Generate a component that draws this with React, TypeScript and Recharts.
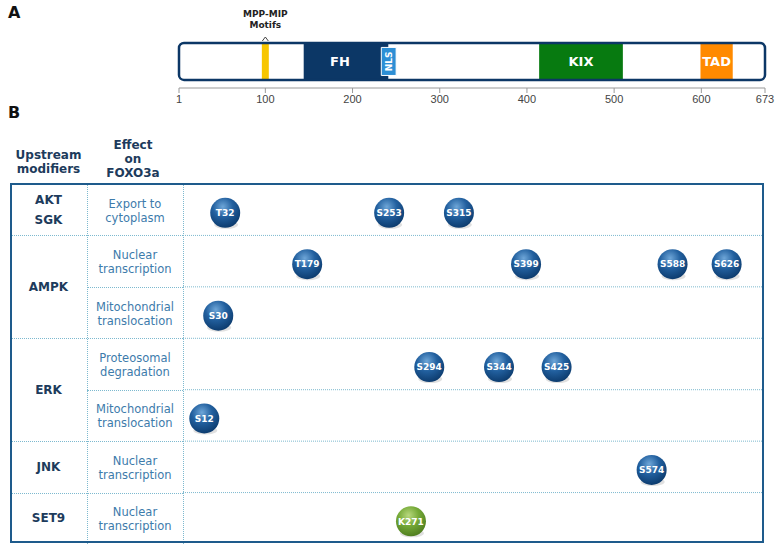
import React from "react";
import {
  ComposedChart,
  ScatterChart,
  Scatter,
  XAxis,
  YAxis,
  ReferenceArea,
  ReferenceLine,
} from "recharts";

// Protein map (panel A)
const PROTEIN_LENGTH = 673;
const axisTicks = [1, 100, 200, 300, 400, 500, 600, 673];

const domainNames = ["FH", "KIX", "TAD"];
const domainStarts = [144, 414, 599];
const domainEnds = [241, 510, 636];
const domainColors = ["#0c3766", "#077a10", "#ff8a00"];

const nlsStart = 233;
const nlsEnd = 250;
const motifStart = 96;
const motifEnd = 104;

// Modification table (panel B)
const modifiers = ["AKT\nSGK", "AMPK", "ERK", "JNK", "SET9"];
const modifierSpans = [1, 2, 2, 1, 1];
const effects = [
  "Export to\ncytoplasm",
  "Nuclear\ntranscription",
  "Mitochondrial\ntranslocation",
  "Proteosomal\ndegradation",
  "Mitochondrial\ntranslocation",
  "Nuclear\ntranscription",
  "Nuclear\ntranscription",
];

const siteLabels = ["T32", "S253", "S315", "T179", "S399", "S588", "S626", "S30", "S294", "S344", "S425", "S12", "S574", "K271"];
const siteRows = [0, 0, 0, 1, 1, 1, 1, 2, 3, 3, 3, 4, 5, 6];
// where each ball sits along the sequence axis, as drawn
const sitePositions = [54, 242, 322, 148, 399, 567, 629, 46, 288, 368, 434, 30, 543, 267];
const siteKinds = ["p", "p", "p", "p", "p", "p", "p", "p", "p", "p", "p", "p", "p", "m"];

const W = 775;
const H = 552;
const TABLE_LEFT = 10;
const TABLE_TOP = 184;
const TABLE_BOTTOM = 544;
const COL1 = 87;
const COL2 = 183;
const ROW_H = (TABLE_BOTTOM - TABLE_TOP) / effects.length;
const BALL_OFFSET = 0.56;

const NAVY = "#1d3b5c";
const STEEL = "#3d7bab";
const GRID = "#7db9cf";
const FONT = "'DejaVu Sans', Verdana, sans-serif";

const sites = siteLabels.map((label, i) => ({
  label,
  x: sitePositions[i],
  y: siteRows[i] + BALL_OFFSET,
  kind: siteKinds[i],
}));

const Ball = (props: any) => {
  const { cx, cy, payload } = props;
  const fill = payload.kind === "m" ? "url(#ballGreen)" : "url(#ballBlue)";
  return (
    <g>
      <ellipse cx={cx + 1} cy={cy + 12} rx={12} ry={4} fill="#000" opacity={0.12} />
      <circle cx={cx} cy={cy} r={15} fill={fill} />
      <text
        x={cx}
        y={cy}
        dy="0.36em"
        textAnchor="middle"
        fill="#fff"
        fontSize={9}
        fontWeight="bold"
        fontFamily={FONT}
      >
        {payload.label}
      </text>
    </g>
  );
};

const MotifLabel = (props: any) => {
  const { viewBox } = props;
  const cx = viewBox.x + viewBox.width / 2;
  const top = viewBox.y;
  return (
    <g fontFamily={FONT} fontWeight="bold" fontSize={9} fill="#222" textAnchor="middle">
      <text x={cx} y={top - 26}>MPP-MIP</text>
      <text x={cx} y={top - 15}>Motifs</text>
      <path d={`M${cx - 3},${top - 2} L${cx},${top - 6} L${cx + 3},${top - 2}`} stroke="#444" fill="none" strokeWidth={1} />
    </g>
  );
};

const roundBox = (fill: string, stroke: string) => (p: any) => (
  <rect x={p.x} y={p.y} width={p.width} height={p.height} rx={5} ry={5} fill={fill} stroke={stroke} strokeWidth={2.5} />
);

const App: React.FC = () => {
  // cumulative row tops for the modifier groups
  const groupStarts: number[] = [];
  modifierSpans.reduce((acc, s) => {
    groupStarts.push(acc);
    return acc + s;
  }, 0);
  const groupBoundaries = new Set(groupStarts);

  return (
    <div style={{ position: "absolute", left: 0, top: 0, width: W, height: H, background: "#fff", fontFamily: FONT, overflow: "hidden" }}>
      <div style={{ position: "absolute", left: 8, top: 3, fontSize: 16, fontWeight: "bold", color: "#111" }}>A</div>
      <div style={{ position: "absolute", left: 8, top: 103, fontSize: 16, fontWeight: "bold", color: "#111" }}>B</div>

      <div style={{ position: "absolute", left: 0, top: 0 }}>
        <ComposedChart width={W} height={110} margin={{ top: 43, right: 10, bottom: 0, left: 179 }} data={[{ x: 1, y: 0 }]}>
          <XAxis
            type="number"
            dataKey="x"
            domain={[1, PROTEIN_LENGTH]}
            ticks={axisTicks}
            interval={0}
            allowDataOverflow
            height={22}
            stroke="#999"
            tickSize={5}
            tick={{ fontSize: 11, fill: "#444", fontFamily: "'Liberation Sans', Arial, sans-serif" }}
          />
          <YAxis type="number" domain={[-0.22, 1]} hide allowDataOverflow />
          <ReferenceArea x1={1} x2={PROTEIN_LENGTH} y1={0} y2={1} shape={roundBox("#fff", "none")} />
          <ReferenceArea x1={motifStart} x2={motifEnd} y1={0} y2={1} fill="#f7c600" fillOpacity={1} label={<MotifLabel />} />
          {domainNames.map((name, i) => (
            <ReferenceArea
              key={name}
              x1={domainStarts[i]}
              x2={domainEnds[i]}
              y1={0}
              y2={1}
              fill={domainColors[i]}
              fillOpacity={1}
              label={{ value: name, position: "center", fill: "#fff", fontSize: 13, fontWeight: "bold", fontFamily: FONT, dx: name === "FH" ? -6 : 0 }}
            />
          ))}
          <ReferenceArea
            x1={nlsStart}
            x2={nlsEnd}
            y1={0.12}
            y2={0.88}
            fill="#2d8fd5"
            fillOpacity={1}
            stroke="#fff"
            strokeWidth={1}
            label={{ value: "NLS", position: "center", angle: -90, fill: "#fff", fontSize: 9, fontWeight: "bold", fontFamily: FONT }}
          />
          <ReferenceArea x1={1} x2={PROTEIN_LENGTH} y1={0} y2={1} shape={roundBox("none", "#0c3766")} />
        </ComposedChart>
      </div>

      {/* table headers */}
      <div style={{ position: "absolute", left: TABLE_LEFT, width: COL1 - TABLE_LEFT, top: 148, textAlign: "center", fontSize: 12, fontWeight: "bold", color: NAVY, lineHeight: "14px" }}>
        Upstream
        <br />
        modifiers
      </div>
      <div style={{ position: "absolute", left: COL1 - 2, width: COL2 - COL1, top: 138, textAlign: "center", fontSize: 12, fontWeight: "bold", color: NAVY, lineHeight: "14px" }}>
        Effect
        <br />
        on
        <br />
        FOXO3a
      </div>

      {/* modifier cells */}
      {modifiers.map((m, i) => (
        <div
          key={m}
          style={{
            position: "absolute",
            left: TABLE_LEFT,
            width: COL1 - TABLE_LEFT,
            top: TABLE_TOP + groupStarts[i] * ROW_H,
            height: modifierSpans[i] * ROW_H,
            display: "flex",
            alignItems: "center",
            justifyContent: "center",
            textAlign: "center",
            whiteSpace: "pre-line",
            fontSize: 12,
            fontWeight: "bold",
            color: NAVY,
            lineHeight: "20px",
          }}
        >
          {m}
        </div>
      ))}

      {/* effect cells */}
      {effects.map((e, i) => (
        <div
          key={i}
          style={{
            position: "absolute",
            left: COL1,
            width: COL2 - COL1,
            top: TABLE_TOP + i * ROW_H + 1,
            height: ROW_H,
            display: "flex",
            alignItems: "center",
            justifyContent: "center",
            textAlign: "center",
            whiteSpace: "pre-line",
            fontSize: 11.5,
            color: STEEL,
            lineHeight: "14px",
          }}
        >
          {e}
        </div>
      ))}

      {/* grid lines in the label columns */}
      {effects.slice(1).map((_, k) => {
        const row = k + 1;
        const left = groupBoundaries.has(row) ? TABLE_LEFT : COL1;
        return (
          <div
            key={row}
            style={{ position: "absolute", left, width: COL2 - left, top: TABLE_TOP + row * ROW_H, borderTop: `1px dotted ${GRID}` }}
          />
        );
      })}
      {[COL1, COL2].map((x) => (
        <div key={x} style={{ position: "absolute", left: x, top: TABLE_TOP, height: TABLE_BOTTOM - TABLE_TOP, borderLeft: `1px dotted ${GRID}` }} />
      ))}

      <div style={{ position: "absolute", left: 0, top: 0 }}>
        <ScatterChart width={W} height={H} margin={{ top: TABLE_TOP, right: 10, bottom: H - TABLE_BOTTOM, left: COL2 }}>
          <defs>
            <radialGradient id="ballBlue" cx="42%" cy="30%" r="75%">
              <stop offset="0%" stopColor="#6ea6d8" />
              <stop offset="45%" stopColor="#22609f" />
              <stop offset="100%" stopColor="#0a3768" />
            </radialGradient>
            <radialGradient id="ballGreen" cx="42%" cy="30%" r="75%">
              <stop offset="0%" stopColor="#b8d87e" />
              <stop offset="45%" stopColor="#76aa38" />
              <stop offset="100%" stopColor="#4a781c" />
            </radialGradient>
          </defs>
          <XAxis type="number" dataKey="x" domain={[5.6, PROTEIN_LENGTH]} allowDataOverflow hide />
          <YAxis type="number" dataKey="y" domain={[0, effects.length]} reversed allowDataOverflow hide />
          {effects.slice(1).map((_, k) => (
            <ReferenceLine key={k} y={k + 1} stroke={GRID} strokeDasharray="1 1" />
          ))}
          <Scatter data={sites} shape={<Ball />} isAnimationActive={false} />
        </ScatterChart>
      </div>

      {/* outer table frame */}
      <div
        style={{
          position: "absolute",
          left: TABLE_LEFT,
          top: TABLE_TOP - 1,
          width: W - 10 - TABLE_LEFT - 1,
          height: TABLE_BOTTOM - TABLE_TOP,
          border: "2.5px solid #1e5b8c",
          boxSizing: "border-box",
          pointerEvents: "none",
        }}
      />
    </div>
  );
};

export default App;
